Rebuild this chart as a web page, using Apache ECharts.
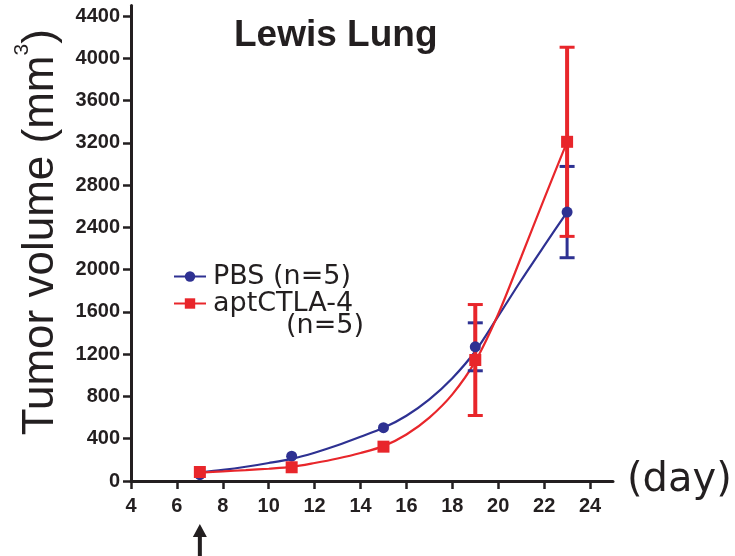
<!DOCTYPE html>
<html><head><meta charset="utf-8">
<script src="https://cdn.jsdelivr.net/npm/echarts@6/dist/echarts.min.js"></script>
<style>html,body{margin:0;padding:0;background:#fff}#c{width:735px;height:556px}</style>
</head><body><div id="c"></div>
<script>
// ---- data ----
const xTicks = [4, 6, 8, 10, 12, 14, 16, 18, 20, 22, 24];
const yTicks = [0, 400, 800, 1200, 1600, 2000, 2400, 2800, 3200, 3600, 4000, 4400];
const days = [7, 11, 15, 19, 23];
const pbsMean = [60, 235, 505, 1270, 2545];
const pbsErr = [0, 0, 0, 227, 432];      // early error bars are hidden behind the markers
const aptMean = [85, 130, 325, 1145, 3210];
const aptErr = [0, 0, 0, 525, 895];
// fitted curves at each day
const fitDays = [7, 8, 9, 10, 11, 12, 13, 14, 15, 16, 17, 18, 19, 20, 21, 22, 23];
const pbsFit = [80, 105, 135, 170, 210, 268, 338, 418, 503, 618, 773, 973, 1228, 1560, 1900, 2225, 2545];
const aptFit = [80, 91, 103, 116, 133, 170, 213, 265, 330, 440, 600, 820, 1132, 1580, 2120, 2670, 3210];
const seriesNames = ['PBS (n=5)', 'aptCTLA-4'];

const BLUE = '#2e3192', RED = '#e8262b', INK = '#231f20';
const FONT = '"Liberation Sans", Arial, sans-serif';

function pairs(xs, ys) { return xs.map((x, i) => [x, ys[i]]); }

function errSeries(mean, err, color, lw, z) {
  return {
    type: 'custom', z: z, silent: true,
    data: days.map((d, i) => [d, mean[i] - err[i], mean[i] + err[i]]),
    encode: { x: 0, y: [1, 2] },
    renderItem(params, api) {
      const x = api.value(0);
      if (api.value(2) - api.value(1) <= 0) return null;
      const lo = api.coord([x, api.value(1)]);
      const hi = api.coord([x, api.value(2)]);
      const w = 7.5;
      return { type: 'group', children: [
        { type: 'line', shape: { x1: lo[0], y1: lo[1], x2: hi[0], y2: hi[1] }, style: { stroke: color, lineWidth: lw } },
        { type: 'line', shape: { x1: hi[0] - w, y1: hi[1], x2: hi[0] + w, y2: hi[1] }, style: { stroke: color, lineWidth: 3 } },
        { type: 'line', shape: { x1: lo[0] - w, y1: lo[1], x2: lo[0] + w, y2: lo[1] }, style: { stroke: color, lineWidth: 3 } }
      ]};
    }
  };
}

const chart = echarts.init(document.getElementById('c'), null, { renderer: 'canvas' });
chart.setOption({
  animation: false,
  backgroundColor: '#fff',
  title: {
    text: 'Lewis Lung', left: 229, top: 12,
    textStyle: { fontFamily: FONT, fontWeight: 'bold', fontSize: 37, color: INK }
  },
  legend: {
    orient: 'vertical', left: 168, top: 258, itemGap: 0,
    itemWidth: 32, itemHeight: 13,
    data: seriesNames,
    textStyle: { fontFamily: '"DejaVu Sans", sans-serif', fontSize: 27, color: INK, lineHeight: 25, padding: [0, 0, 0, 2] }
  },
  grid: { left: 131, right: 122, top: 5.5, bottom: 75, containLabel: false, outerBoundsMode: 'none' },
  xAxis: {
    type: 'value', min: 4, max: 25,
    name: '(day)', nameLocation: 'end', nameGap: 14,
    nameTextStyle: { fontFamily: '"DejaVu Sans", sans-serif', fontSize: 40, color: INK, padding: [10, 0, 0, 0] },
    axisLine: { show: true, onZero: false, lineStyle: { color: INK, width: 3 } },
    axisTick: { show: true, length: 8, lineStyle: { color: INK, width: 2.5 }, customValues: xTicks },
    axisLabel: { customValues: xTicks, margin: 15, fontFamily: FONT, fontWeight: 'bold', fontSize: 20, color: INK,
      formatter: v => String(v) },
    splitLine: { show: false }
  },
  yAxis: {
    type: 'value', min: 0, max: 4500,
    name: 'Tumor volume (mm{sup|3})', nameLocation: 'middle', nameGap: 62, nameRotate: 90,
    nameTextStyle: {
      fontFamily: FONT, fontSize: 44, color: INK, padding: [0, 0, 0, 22],
      rich: { sup: { fontFamily: FONT, fontSize: 21, color: INK, padding: [0, 0, 36, 0] } }
    },
    axisLine: { show: true, lineStyle: { color: INK, width: 3 } },
    axisTick: { show: true, length: 8, lineStyle: { color: INK, width: 2.5 }, customValues: yTicks },
    axisLabel: { customValues: yTicks, margin: 11, fontFamily: FONT, fontWeight: 'bold', fontSize: 20, color: INK,
      formatter: v => String(v) },
    splitLine: { show: false }
  },
  series: [
    { name: seriesNames[0], type: 'line', smooth: 0.3, data: pairs(fitDays, pbsFit), showSymbol: false,
      symbol: 'circle', lineStyle: { color: BLUE, width: 2.2 }, itemStyle: { color: BLUE }, z: 2, silent: true },
    { name: seriesNames[1], type: 'line', smooth: 0.3, data: pairs(fitDays, aptFit), showSymbol: false,
      symbol: 'rect', lineStyle: { color: RED, width: 2.2 }, itemStyle: { color: RED }, z: 2, silent: true },
    errSeries(pbsMean, pbsErr, BLUE, 3, 3),
    errSeries(aptMean, aptErr, RED, 4, 4),
    { type: 'scatter', data: pairs(days, pbsMean), symbol: 'circle', symbolSize: 11, itemStyle: { color: BLUE, opacity: 1 }, z: 5, silent: true },
    { type: 'scatter', data: pairs(days, aptMean), symbol: 'rect', symbolSize: 12, itemStyle: { color: RED, opacity: 1 }, z: 6, silent: true }
  ]
});

// annotations: "(n=5)" continuation of legend, and arrow under day 7
const ax = chart.convertToPixel({ xAxisIndex: 0 }, 7);
chart.setOption({
  graphic: [
    { type: 'text', left: 286, top: 312, style: { text: '(n=5)', font: '27px "DejaVu Sans", sans-serif', fill: INK } },
    { type: 'polygon', shape: { points: [
        [ax, 524], [ax + 7, 537], [ax + 2, 537], [ax + 2, 556], [ax - 2, 556], [ax - 2, 537], [ax - 7, 537]
      ] }, style: { fill: INK } }
  ]
});
</script></body></html>
